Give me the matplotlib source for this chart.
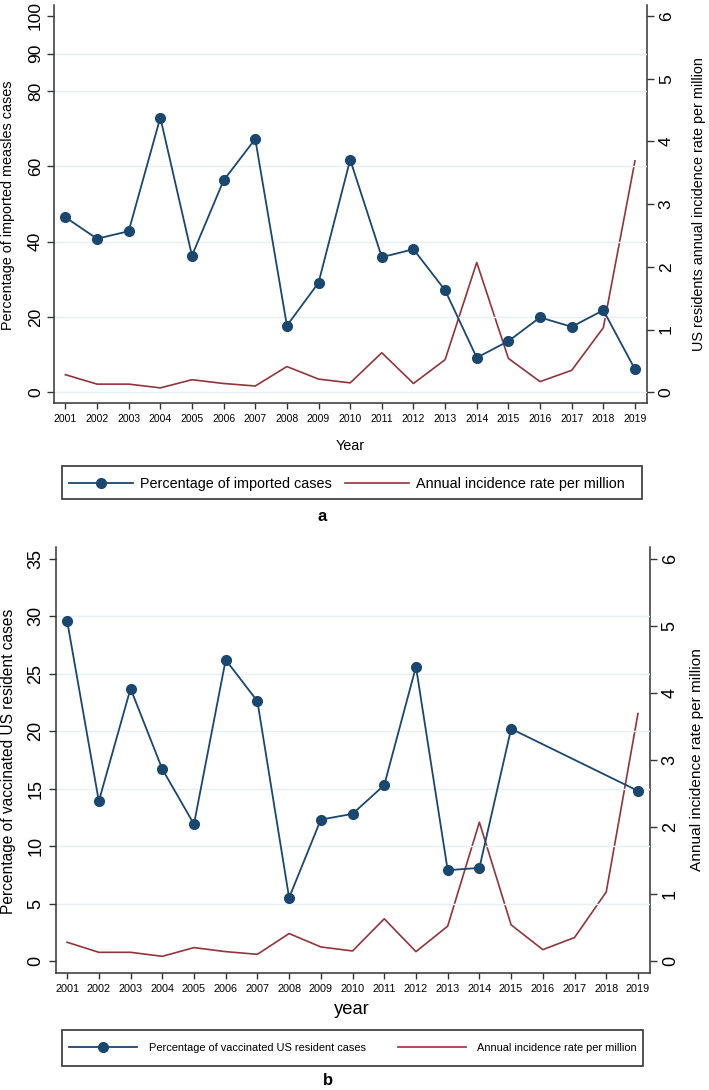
import numpy as np
import matplotlib
matplotlib.use("Agg")
import matplotlib.pyplot as plt
from matplotlib.patches import Rectangle

plt.rcParams['font.family'] = ['Liberation Sans', 'DejaVu Sans']

years = list(range(2001, 2020))
pct_imported = [46.5, 40.8, 42.8, 73.0, 36.3, 56.3, 67.3, 17.7, 29.1, 61.8,
                35.9, 38.0, 27.1, 9.2, 13.6, 19.9, 17.4, 21.8, 6.1]
incidence = [0.28, 0.13, 0.13, 0.07, 0.20, 0.14, 0.10, 0.41, 0.21, 0.15,
             0.63, 0.14, 0.52, 2.07, 0.54, 0.17, 0.35, 1.03, 3.69]
pct_vaccinated = [29.6, 13.9, 23.7, 16.7, 11.9, 26.2, 22.6, 5.5, 12.3, 12.8,
                  15.3, 25.6, 7.9, 8.1, 20.2, None, None, None, 14.8]

left_ticks_a = [0, 20, 40, 60, 80, 90, 100]
left_ticks_b = [0, 5, 10, 15, 20, 25, 30, 35]
right_ticks = [0, 1, 2, 3, 4, 5, 6]

BLUE = '#1a476f'
RED = '#90353b'
GRID = '#e6eff1'
SPINE = '#333333'

W, H = 709, 1090
fig = plt.figure(figsize=(W / 100, H / 100), dpi=100)


def fx(px):
    return px / W


def fy(py):
    return 1 - py / H


def make_panel(rect, left_vals, left_ticks, grid_ticks, ylim_l, ylim_r,
               xfs, yfs, blue_label):
    ax = fig.add_axes(rect)
    ax2 = ax.twinx()
    for t in grid_ticks:
        ax.axhline(t, color=GRID, lw=1.0, zorder=0)
    xs = [y for y, v in zip(years, left_vals) if v is not None]
    vs = [v for v in left_vals if v is not None]
    l1, = ax.plot(xs, vs, color=BLUE, lw=1.3, marker='o', ms=7,
                  label=blue_label, zorder=3)
    l2, = ax2.plot(years, incidence, color=RED, lw=1.2,
                   label='Annual incidence rate per million', zorder=2)
    ax.set_zorder(ax2.get_zorder() + 1)
    ax.patch.set_visible(False)
    ax.set_xlim(2000.64, 2019.38)
    ax.set_ylim(*ylim_l)
    ax2.set_ylim(*ylim_r)
    ax.set_xticks(years)
    ax.set_xticklabels([str(y) for y in years], fontsize=xfs)
    ax.set_yticks(left_ticks)
    ax.set_yticklabels([str(t) for t in left_ticks], fontsize=yfs,
                       rotation=90, va='center')
    ax2.set_yticks(right_ticks)
    ax2.set_yticklabels([str(t) for t in right_ticks], fontsize=yfs,
                        rotation=90, va='center')
    for a in (ax, ax2):
        a.spines['top'].set_visible(False)
        for s in a.spines.values():
            s.set_color(SPINE)
            s.set_linewidth(1.1)
    ax2.spines['left'].set_visible(False)
    ax2.spines['bottom'].set_visible(False)
    ax.spines['right'].set_visible(False)
    ax.tick_params(axis='x', length=4.5, width=1.0, color=SPINE, pad=3)
    ax.tick_params(axis='y', length=5, width=1.0, color=SPINE, pad=3)
    ax2.tick_params(axis='y', length=5, width=1.0, color=SPINE, pad=3.5)
    return ax, ax2, l1, l2


# ---- panel a ----
axA, axA2, a1, a2 = make_panel(
    [fx(54), fy(403.5), fx(647) - fx(54), fy(5) - fy(403.5)],
    pct_imported, left_ticks_a, [0, 20, 40, 60, 80, 90],
    (-2.98, 102.9), (-0.179, 6.175), 7.5, 12.5,
    'Percentage of imported cases')
fig.text(fx(8.5), fy(205), 'Percentage of imported measles cases',
         rotation=90, ha='center', va='center', fontsize=10.4)
fig.text(fx(699), fy(204), 'US residents annual incidence rate per million',
         rotation=90, ha='center', va='center', fontsize=10.4)
fig.text(fx(350), fy(446), 'Year', ha='center', va='center', fontsize=10.4)
fig.patches.append(Rectangle((fx(61.7), fy(499.3)), fx(641.7) - fx(61.7),
                             fy(466) - fy(499.3), transform=fig.transFigure,
                             fill=False, edgecolor=SPINE, lw=1.2))
fig.legend(handles=[a1, a2], loc='center left',
           bbox_to_anchor=(fx(69), fy(484)), ncol=2, frameon=False,
           fontsize=10.4, borderpad=0, borderaxespad=0,
           handlelength=4.43, handletextpad=0.46, columnspacing=0.97)
fig.text(fx(321.7), fy(516.7), 'a', ha='center', va='center',
         fontsize=12, fontweight='bold')

# ---- panel b ----
axB, axB2, b1, b2 = make_panel(
    [fx(55.7), fy(973.3), fx(650) - fx(55.7), fy(546.7) - fy(973.3)],
    pct_vaccinated, left_ticks_b, [5, 10, 15, 20, 25, 30],
    (-1.07, 36.04), (-0.183, 6.179), 7.8, 13,
    'Percentage of vaccinated US resident cases')
fig.text(fx(9), fy(761.7), 'Percentage of vaccinated US resident cases',
         rotation=90, ha='center', va='center', fontsize=11.2)
fig.text(fx(696.7), fy(760), 'Annual incidence rate per million',
         rotation=90, ha='center', va='center', fontsize=11.1)
fig.text(fx(352), fy(1009), 'year', ha='center', va='center', fontsize=13.2)
fig.patches.append(Rectangle((fx(62.3), fy(1065.7)), fx(643) - fx(62.3),
                             fy(1030) - fy(1065.7), transform=fig.transFigure,
                             fill=False, edgecolor=SPINE, lw=1.2))
fig.legend(handles=[b1, b2], loc='center left',
           bbox_to_anchor=(fx(69.3), fy(1047.7)), ncol=2, frameon=False,
           fontsize=7.9, borderpad=0, borderaxespad=0,
           handlelength=6.2, handletextpad=1.04, columnspacing=2.9)
fig.text(fx(328), fy(1080.7), 'b', ha='center', va='center',
         fontsize=12, fontweight='bold')

fig.savefig('out.png', dpi=100)
